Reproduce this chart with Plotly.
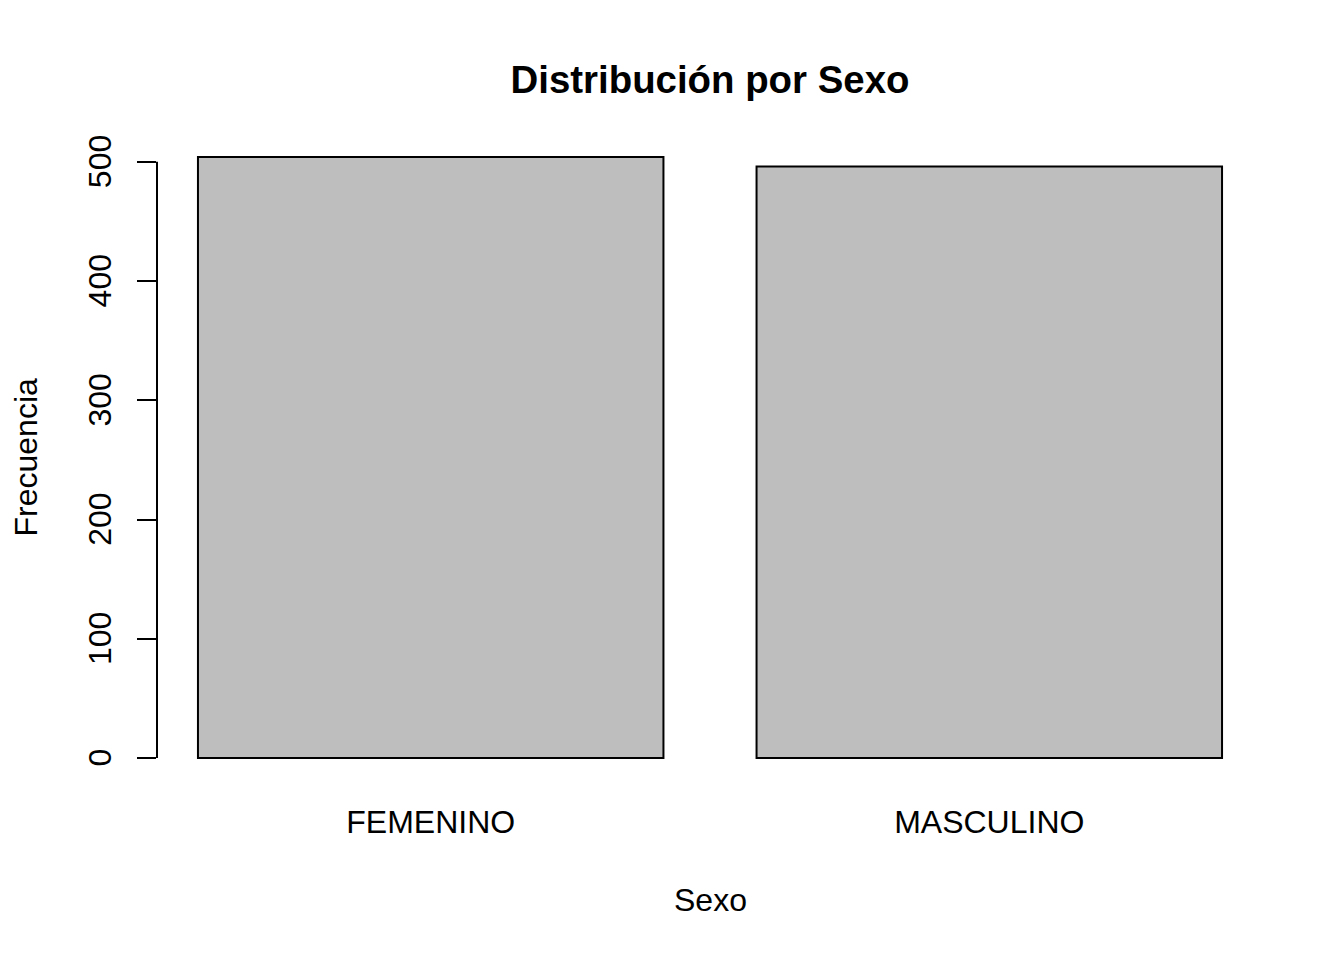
import plotly.graph_objects as go

categories = ["FEMENINO", "MASCULINO"]
values = [504, 496]
bar_pos = [0.7, 1.9]
y_ticks = [0, 100, 200, 300, 400, 500]

FONT = "Liberation Sans, Arial, sans-serif"

fig = go.Figure()
fig.add_trace(go.Bar(
    x=bar_pos, y=values, width=1.0,
    marker=dict(color="#BEBEBE", line=dict(color="black", width=2)),
    hoverinfo="x+y",
))

fig.update_layout(
    width=1344, height=960,
    margin=dict(l=157, r=81, t=133, b=178),
    plot_bgcolor="white", paper_bgcolor="white",
    showlegend=False,
    font=dict(family=FONT, size=32, color="black"),
    title=dict(text="<b>Distribución por Sexo</b>", x=710/1344, xref="container", xanchor="center",
               y=1 - 80/960, yref="container", yanchor="middle",
               font=dict(family=FONT, size=38.4, color="black")),
    xaxis=dict(range=[0.112, 2.488], tickvals=bar_pos, ticktext=categories,
               showgrid=False, zeroline=False, showline=False, ticks="",
               ticklabelstandoff=18,
               tickfont=dict(family=FONT, size=32, color="black")),
    yaxis=dict(range=[-20.16, 524.16], tickvals=y_ticks,
               ticktext=[str(v) + "\u00a0" for v in y_ticks],
               showgrid=False, zeroline=False, showline=False,
               ticks="outside", ticklen=19, tickwidth=2, tickcolor="black",
               tickangle=-90, ticklabelstandoff=13,
               tickfont=dict(family=FONT, size=32, color="black")),
)

fig.add_shape(type="line", xref="paper", yref="y", x0=0, x1=0, y0=y_ticks[0], y1=y_ticks[-1],
              line=dict(color="black", width=2))

fig.add_annotation(text="Frecuencia", xref="paper", yref="paper", x=0, y=0.5,
                   xshift=-132, textangle=-90, showarrow=False, xanchor="center", yanchor="middle",
                   font=dict(family=FONT, size=32, color="black"))
fig.add_annotation(text="Sexo", xref="paper", yref="paper", x=0.5, y=0,
                   yshift=-118, showarrow=False, xanchor="center", yanchor="middle",
                   font=dict(family=FONT, size=32, color="black"))

fig.write_html("out.html")
